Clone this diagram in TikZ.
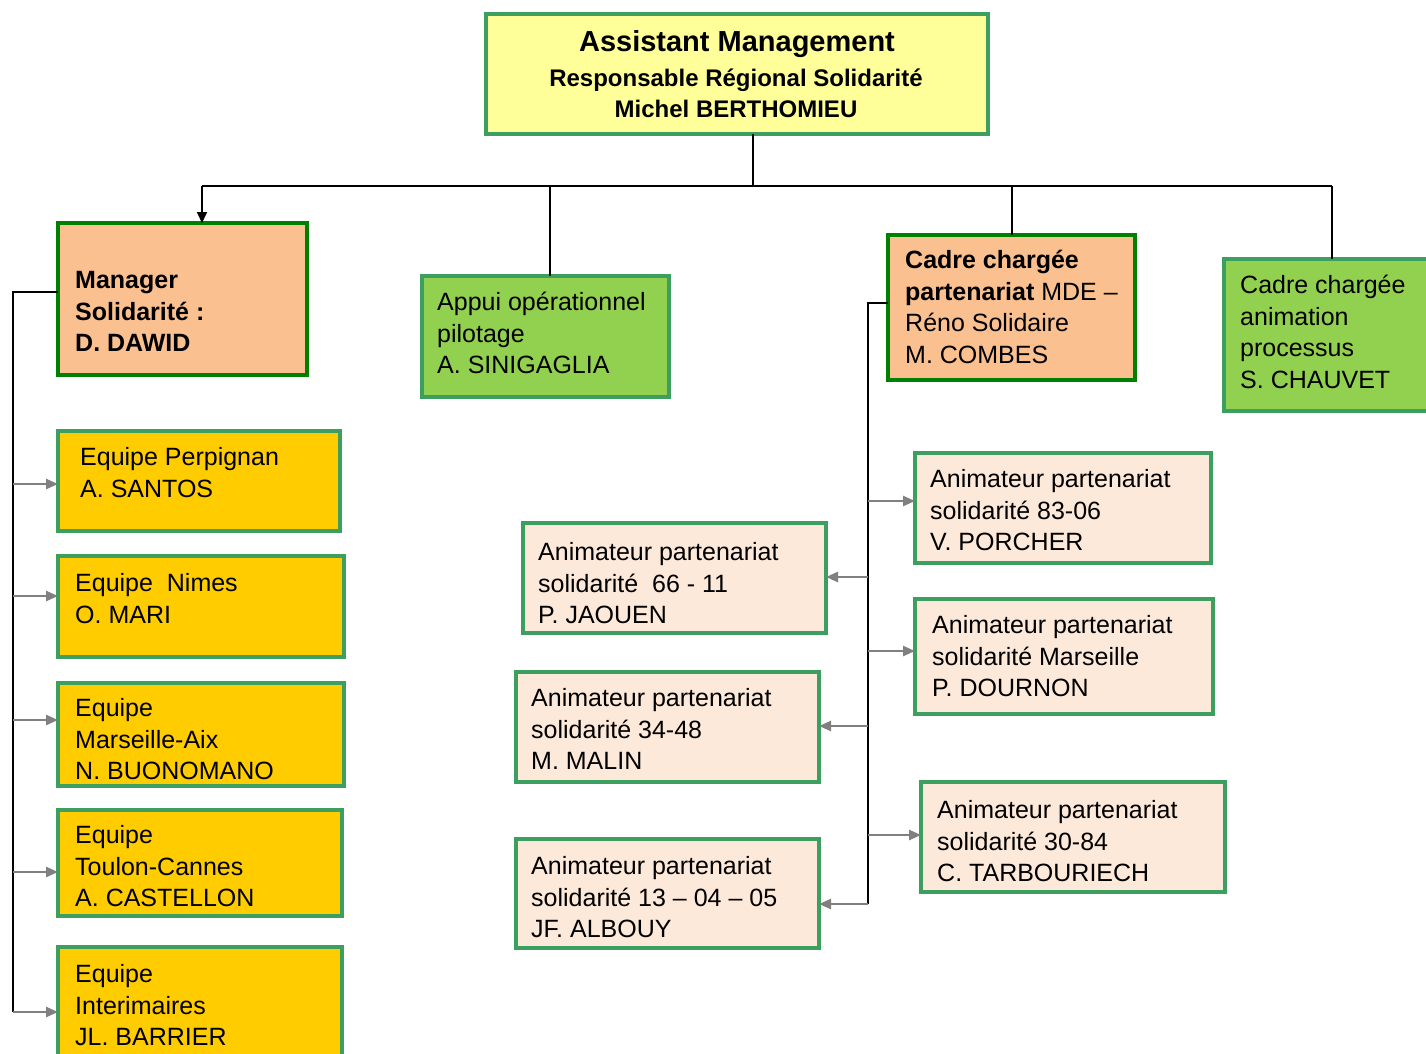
\documentclass[tikz,border=0pt]{standalone}
\usepackage{fontspec}
\setmainfont{Liberation Sans}
\usetikzlibrary{arrows.meta}
\definecolor{lgreen}{RGB}{60,158,95}
\definecolor{dgreen}{RGB}{0,128,0}
\definecolor{topfill}{RGB}{255,255,153}
\definecolor{peach}{RGB}{250,192,144}
\definecolor{lpeach}{RGB}{253,233,217}
\definecolor{gfill}{RGB}{146,208,80}
\definecolor{yfill}{RGB}{255,204,0}
\definecolor{garrowc}{RGB}{128,128,128}
\begin{document}
\begin{tikzpicture}[x=1pt,y=-1pt,
  box/.style={rectangle, inner sep=0pt, outer sep=0pt, line width=4pt, draw=lgreen, anchor=north west},
  darkbox/.style={box, draw=dgreen, line width=4.5pt},
  txt/.style={inner sep=0pt, anchor=north west, align=left, font=\fontsize{25}{31.5}\selectfont},
  toptxt/.style={inner sep=0pt, anchor=base, font=\bfseries\fontsize{24}{30}\selectfont},
  conn/.style={line width=2pt, black},
  garr/.style={line width=2.5pt, garrowc, -{Triangle[length=12pt,width=10pt]}},
]
\useasboundingbox (0,0) rectangle (1426,1053);

% top box
\node[box, fill=topfill, minimum width=502pt, minimum height=120pt] (top) at (486,14) {};
\node[toptxt, font=\bfseries\fontsize{29}{34}\selectfont] (t1) at (737,51) {Assistant Management};
\node[toptxt] (t2) at (736,86) {Responsable Régional Solidarité};
\node[toptxt] (t3) at (736,117) {Michel BERTHOMIEU};

% level 2 boxes
\node[darkbox, fill=peach, minimum width=249pt, minimum height=152pt] (mgr) at (58,223) {};
\node[txt, font=\bfseries\fontsize{25}{31.5}\selectfont] (mgrt) at (75,266.6) {\strut Manager\\Solidarité :\\D. DAWID};

\node[box, fill=gfill, minimum width=247pt, minimum height=121pt] (app) at (422,276) {};
\node[txt] (appt) at (437,288.6) {\strut Appui opérationnel\\pilotage\\A. SINIGAGLIA};

\node[darkbox, fill=peach, minimum width=247pt, minimum height=145pt] (mde) at (888,235) {};
\node[txt] (mdet) at (905,246.6) {\strut\textbf{Cadre chargée}\\\textbf{partenariat} MDE --\\Réno Solidaire\\M. COMBES};

\node[box, fill=gfill, minimum width=216pt, minimum height=152pt] (chv) at (1224,259) {};
\node[txt] (chvt) at (1240,271.6) {\strut Cadre chargée\\animation\\processus\\S. CHAUVET};

% equipes
\node[box, fill=yfill, minimum width=282pt, minimum height=100pt] (e1) at (58,431) {};
\node[txt] (e1t) at (80,443.6) {\strut Equipe Perpignan\\A. SANTOS};
\node[box, fill=yfill, minimum width=286pt, minimum height=101pt] (e2) at (58,556) {};
\node[txt] (e2t) at (75,569.6) {\strut Equipe~ Nimes\\O. MARI};
\node[box, fill=yfill, minimum width=286pt, minimum height=103pt] (e3) at (58,683) {};
\node[txt] (e3t) at (75,694.6) {\strut Equipe\\Marseille-Aix\\N. BUONOMANO};
\node[box, fill=yfill, minimum width=284pt, minimum height=106pt] (e4) at (58,810) {};
\node[txt] (e4t) at (75,821.6) {\strut Equipe\\Toulon-Cannes\\A. CASTELLON};
\node[box, fill=yfill, minimum width=284pt, minimum height=115pt] (e5) at (58,947) {};
\node[txt] (e5t) at (75,960.6) {\strut Equipe\\Interimaires\\JL. BARRIER};

% animateurs
\node[box, fill=lpeach, minimum width=296pt, minimum height=110pt] (r1) at (915,453) {};
\node[txt] (r1t) at (930,465.6) {\strut Animateur partenariat\\solidarité 83-06\\V. PORCHER};
\node[box, fill=lpeach, minimum width=303pt, minimum height=110pt] (l1) at (523,523) {};
\node[txt] (l1t) at (538,538.6) {\strut Animateur partenariat\\solidarité~ 66 - 11\\P. JAOUEN};
\node[box, fill=lpeach, minimum width=298pt, minimum height=115pt] (r2) at (915,599) {};
\node[txt] (r2t) at (932,611.6) {\strut Animateur partenariat\\solidarité Marseille\\P. DOURNON};
\node[box, fill=lpeach, minimum width=303pt, minimum height=110pt] (l2) at (516,672) {};
\node[txt] (l2t) at (531,684.6) {\strut Animateur partenariat\\solidarité 34-48\\M. MALIN};
\node[box, fill=lpeach, minimum width=304pt, minimum height=110pt] (r3) at (921,782) {};
\node[txt] (r3t) at (937,796.6) {\strut Animateur partenariat\\solidarité 30-84\\C. TARBOURIECH};
\node[box, fill=lpeach, minimum width=303pt, minimum height=109pt] (l3) at (516,839) {};
\node[txt] (l3t) at (531,852.6) {\strut Animateur partenariat\\solidarité 13 -- 04 -- 05\\JF. ALBOUY};

% top connectors
\coordinate (j0) at (753,186);
\coordinate (j1) at (202,186);
\coordinate (j2) at (550,186);
\coordinate (j4) at (1332,186);
\draw[conn] (j0 |- top.south) -- (j0);
\draw[conn] (j1) -- (j4);
\draw[conn, -{Triangle[length=11pt,width=10pt]}] (j1) -- (j1 |- mgr.north);
\draw[conn] (j2) -- (j2 |- app.north);
\draw[conn] (mde.north |- j1) -- (mde.north);
\draw[conn] (chv.north |- j4) -- (chv.north);

% left spine
\coordinate (ls) at (13,292);
\coordinate (a1) at (13,484);
\coordinate (a2) at (13,596);
\coordinate (a3) at (13,720);
\coordinate (a4) at (13,872);
\coordinate (a5) at (13,1012);
\draw[conn] (ls -| mgr.west) -- (ls) -- (a5);
\draw[garr] (a1) -- (a1 -| e1.west);
\draw[garr] (a2) -- (a2 -| e2.west);
\draw[garr] (a3) -- (a3 -| e3.west);
\draw[garr] (a4) -- (a4 -| e4.west);
\draw[garr] (a5) -- (a5 -| e5.west);

% right spine
\coordinate (rs) at (868,303);
\coordinate (b1) at (868,501);
\coordinate (b2) at (868,577);
\coordinate (b3) at (868,651);
\coordinate (b4) at (868,726);
\coordinate (b5) at (868,835);
\coordinate (b6) at (868,904);
\draw[conn] (rs -| mde.west) -- (rs) -- (b6);
\draw[garr] (b1) -- (b1 -| r1.west);
\draw[garr] (b2) -- (b2 -| l1.east);
\draw[garr] (b3) -- (b3 -| r2.west);
\draw[garr] (b4) -- (b4 -| l2.east);
\draw[garr] (b5) -- (b5 -| r3.west);
\draw[garr] (b6) -- (b6 -| l3.east);
\end{tikzpicture}
\end{document}
